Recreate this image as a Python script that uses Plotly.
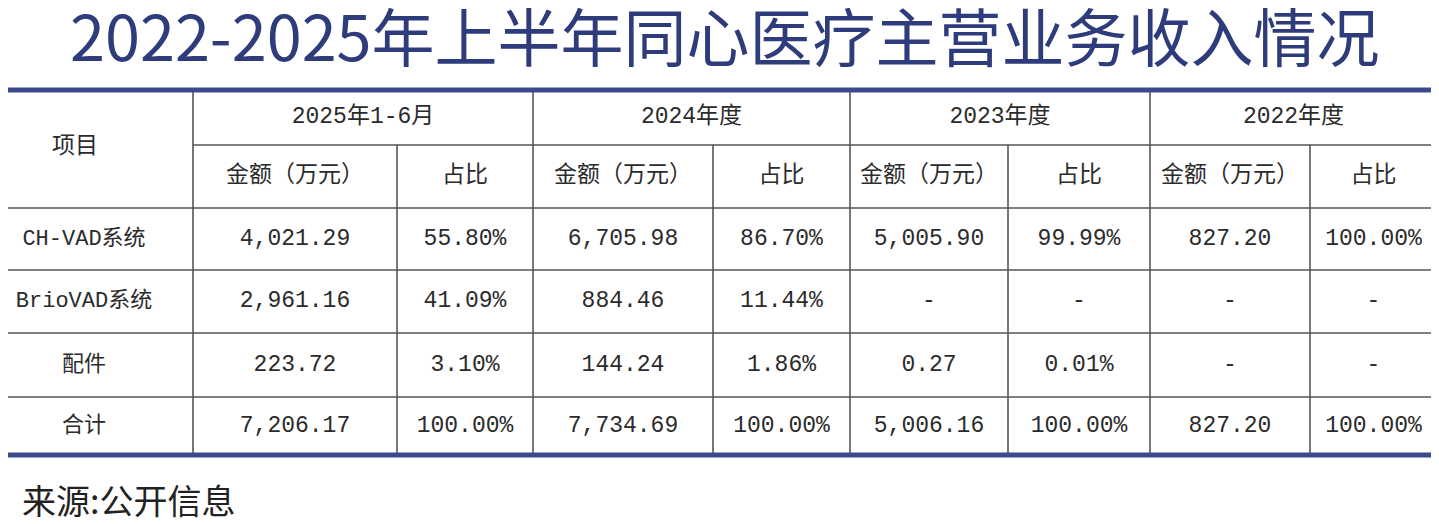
import plotly.graph_objects as go

# table content
items = ["CH-VAD系统", "BrioVAD系统", "配件", "合计"]
periods = ["2025年1-6月", "2024年度", "2023年度", "2022年度"]
sub_headers = ["金额（万元）", "占比"]

amt_2025 = [4021.29, 2961.16, 223.72, 7206.17]
pct_2025 = [55.80, 41.09, 3.10, 100.00]
amt_2024 = [6705.98, 884.46, 144.24, 7734.69]
pct_2024 = [86.70, 11.44, 1.86, 100.00]
amt_2023 = [5005.90, None, 0.27, 5006.16]
pct_2023 = [99.99, None, 0.01, 100.00]
amt_2022 = [827.20, None, None, 827.20]
pct_2022 = [100.00, None, None, 100.00]

title = "2022-2025年上半年同心医疗主营业务收入情况"
source = "来源:公开信息"

# layout grid in page pixels; the page body has an 8px margin,
# so the axes are offset to keep data units == page pixels
W, H = 1439, 524
PAD = 8
col_edges = [0, 193, 397, 533, 713, 850, 1008, 1150, 1310, 1437]
row_edges = [90, 145, 208, 270, 333, 397, 455]
item_x = 84

BLUE = "#3a4a8c"
GRID = "#555555"
TEXT = "#2b2b2b"
BODY_FONT = "Liberation Mono, Noto Sans CJK SC"
BODY_SIZE = 23


def fmt_amt(v):
    return "-" if v is None else f"{v:,.2f}"


def fmt_pct(v):
    return "-" if v is None else f"{v:.2f}%"


def mid(a, b):
    return (a + b) / 2


columns = [amt_2025, pct_2025, amt_2024, pct_2024,
           amt_2023, pct_2023, amt_2022, pct_2022]

fig = go.Figure()
body_font = dict(family=BODY_FONT, size=BODY_SIZE, color=TEXT)

data_y = [mid(row_edges[i], row_edges[i + 1]) for i in range(2, 6)]

# first column: item names
fig.add_trace(go.Scatter(
    x=[item_x] * len(items), y=data_y, text=items, mode="text",
    textfont=dict(family=BODY_FONT, size=22, color=TEXT), hoverinfo="skip",
))

# value columns
for j, col in enumerate(columns):
    fn = fmt_amt if j % 2 == 0 else fmt_pct
    cx = mid(col_edges[j + 1], col_edges[j + 2])
    fig.add_trace(go.Scatter(
        x=[cx] * len(col), y=data_y, text=[fn(v) for v in col], mode="text",
        textfont=body_font, hoverinfo="skip",
    ))

# header row 1: periods, each spanning two sub-columns
fig.add_trace(go.Scatter(
    x=[mid(col_edges[1 + 2 * k], col_edges[3 + 2 * k]) for k in range(len(periods))],
    y=[mid(row_edges[0], row_edges[1])] * len(periods),
    text=periods, mode="text", textfont=body_font, hoverinfo="skip",
))

# header row 2: sub headers
sub_text = sub_headers * len(periods)
fig.add_trace(go.Scatter(
    x=[mid(col_edges[j + 1], col_edges[j + 2]) for j in range(len(sub_text))],
    y=[mid(row_edges[1], row_edges[2])] * len(sub_text),
    text=sub_text, mode="text", textfont=body_font, hoverinfo="skip",
))

# 项目 header spanning both header rows
fig.add_trace(go.Scatter(
    x=[75], y=[mid(row_edges[0], row_edges[2]) - 2], text=["项目"], mode="text",
    textfont=body_font, hoverinfo="skip",
))

shapes = []
# thin horizontal rules
shapes.append(dict(type="line", x0=col_edges[1], x1=col_edges[-1], y0=row_edges[1], y1=row_edges[1],
                   line=dict(color=GRID, width=1.6)))
for y in row_edges[2:-1]:
    shapes.append(dict(type="line", x0=0, x1=col_edges[-1], y0=y, y1=y,
                       line=dict(color=GRID, width=1.6)))
# vertical rules
for j, x in enumerate(col_edges[1:-1]):
    top = row_edges[0] if j % 2 == 0 else row_edges[1]
    shapes.append(dict(type="line", x0=x, x1=x, y0=top, y1=row_edges[-1],
                       line=dict(color=GRID, width=1.6)))
# thick blue top / bottom rules
for y in (row_edges[0], row_edges[-1]):
    shapes.append(dict(type="line", x0=0, x1=W, y0=y, y1=y,
                       line=dict(color=BLUE, width=5)))

fig.update_layout(
    width=W - PAD, height=H - PAD,
    margin=dict(l=0, r=0, t=0, b=0),
    paper_bgcolor="white", plot_bgcolor="white",
    showlegend=False,
    xaxis=dict(range=[PAD, W], visible=False, fixedrange=True),
    yaxis=dict(range=[H, PAD], visible=False, fixedrange=True),
    shapes=shapes,
    annotations=[
        dict(x=W / 2 + 5, y=33, xref="x", yref="y", text=title, showarrow=False,
             font=dict(family="Noto Sans CJK SC", size=63, color="#2e3c7c")),
        dict(x=20, y=499, xref="x", yref="y", text=source, showarrow=False, xanchor="left",
             font=dict(family="Noto Sans CJK SC", size=34, color="#222222")),
    ],
)

fig.write_html("out.html")
